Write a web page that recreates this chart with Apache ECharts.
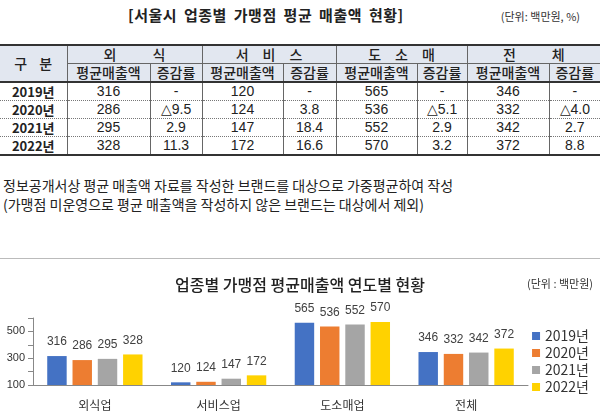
<!DOCTYPE html>
<html>
<head>
<meta charset="utf-8">
<script src="https://cdn.jsdelivr.net/npm/echarts@6/dist/echarts.min.js"></script>
<style>
  html, body { margin: 0; padding: 0; background: #fff; }
  body { width: 600px; height: 420px; position: relative; overflow: hidden; font-family: "Noto Sans CJK KR", sans-serif; color: #222; }
  #title { position: absolute; top: 4px; left: 128px; font-size: 15px; font-weight: bold; letter-spacing: 0.5px; word-spacing: 3px; }
  #unit { position: absolute; top: 8px; right: 20px; font-size: 11px; color: #333; }
  #tbl { position: absolute; top: 44px; left: 0; width: 600px; border-collapse: collapse; table-layout: fixed; }
  #tbl td { height: 17px; padding: 0; text-align: center; border-left: 1px solid #666; border-right: 1px solid #666; font-size: 13px; line-height: 17px; white-space: nowrap; overflow: hidden; }
  #tbl tr.h td { background: #e2e7f0; font-size: 14px; font-weight: 500; }
  #tbl tr.h1 td { border-top: 2px solid #333; }
  #tbl tr.h2 td { border-top: 1px solid #666; border-bottom: 2px solid #333; }
  #tbl tr.d td { border-bottom: 1px dotted #777; font-family: "Liberation Sans Narrow", "Liberation Sans", sans-serif; font-size: 14px; }
  #tbl tr.d td.y { font-family: "Noto Sans CJK KR", sans-serif; font-weight: bold; font-size: 13px; }
  #tbl tr.last td { border-bottom: 2px solid #333; }
  #tbl td:first-child { border-left: none; }
  #tbl td:last-child { border-right: none; }
  .sp { letter-spacing: 12px; }
  #notes { position: absolute; top: 176px; left: 3px; font-size: 14px; line-height: 19px; color: #222; }
  #sep { position: absolute; top: 258px; left: 0; width: 600px; border-top: 1px solid #bbb; }
  #chart { position: absolute; top: 259px; left: 0; width: 600px; height: 161px; }
</style>
</head>
<body>
<div id="title">[서울시 업종별 가맹점 평균 매출액 현황]</div>
<div id="unit">(단위: 백만원, %)</div>
<table id="tbl"></table>
<div id="notes">정보공개서상 평균 매출액 자료를 작성한 브랜드를 대상으로 가중평균하여 작성<br>(가맹점 미운영으로 평균 매출액을 작성하지 않은 브랜드는 대상에서 제외)</div>
<div id="sep"></div>
<div id="chart"></div>
<script>
// 표 데이터
const years = ['2019년', '2020년', '2021년', '2022년']
const groupNames = ['외 식', '서 비 스', '도 소 매', '전 체']
const salesFood = [316, 286, 295, 328]
const salesService = [120, 124, 147, 172]
const salesRetail = [565, 536, 552, 570]
const salesTotal = [346, 332, 342, 372]
const rateFood = ['-', '△9.5', '2.9', '11.3']
const rateService = ['-', '3.8', '18.4', '16.6']
const rateRetail = ['-', '△5.1', '2.9', '3.2']
const rateTotal = ['-', '△4.0', '2.7', '8.8']

// 차트 데이터
const categories = ['외식업', '서비스업', '도소매업', '전체']
const colWidths = [67, 83, 52, 81, 53, 81, 50, 82, 51]
const groupGaps = [36, 14, 14, 36]

// 표 그리기
function buildTable() {
  const tbl = document.getElementById('tbl')
  let html = '<colgroup>' + colWidths.map(w => '<col style="width:' + w + 'px">').join('') + '</colgroup>'
  html += '<tr class="h h1"><td rowspan="2" style="border-bottom:2px solid #333"><span class="sp">구</span>분</td>'
  groupNames.forEach((g, i) => {
    const parts = g.split(' ')
    const inner = parts.map((p, j) => j < parts.length - 1
      ? '<span style="margin-right:' + groupGaps[i] + 'px">' + p + '</span>' : p).join('')
    html += '<td colspan="2">' + inner + '</td>'
  })
  html += '</tr><tr class="h h2">'
  groupNames.forEach(() => {
    html += '<td>평균매출액</td><td>증감률</td>'
  })
  html += '</tr>'
  const sales = [salesFood, salesService, salesRetail, salesTotal]
  const rates = [rateFood, rateService, rateRetail, rateTotal]
  years.forEach((y, i) => {
    html += '<tr class="d' + (i === years.length - 1 ? ' last' : '') + '"><td class="y">' + y + '</td>'
    for (let k = 0; k < 4; k++) {
      html += '<td>' + sales[k][i] + '</td><td>' + rates[k][i] + '</td>'
    }
    html += '</tr>'
  })
  tbl.innerHTML = html
}
buildTable()

// 연도별 막대 차트
const chart = echarts.init(document.getElementById('chart'))
const yearColors = ['#4472c4', '#ed7d31', '#a5a5a5', '#ffd200']
const byYear = years.map((y, i) => [salesFood[i], salesService[i], salesRetail[i], salesTotal[i]])

const option = {
  animation: false,
  title: [{
    text: '업종별 가맹점 평균매출액 연도별 현황',
    left: 'center',
    top: 13,
    textStyle: { fontSize: 16, fontWeight: 500, color: '#222', fontFamily: 'Noto Sans CJK KR' }
  }, {
    text: '(단위 : 백만원)',
    right: 2,
    top: 14,
    textStyle: { fontSize: 11, fontWeight: 'normal', color: '#333', fontFamily: 'Noto Sans CJK KR' }
  }],
  legend: {
    orient: 'vertical',
    right: 6,
    top: 65,
    icon: 'rect',
    itemWidth: 8,
    itemHeight: 8,
    itemGap: 3,
    data: years,
    textStyle: { fontSize: 14, color: '#333', fontFamily: 'Noto Sans CJK KR' }
  },
  grid: { left: 33, right: 72, top: 59, bottom: 35 },
  xAxis: {
    type: 'category',
    data: categories,
    axisLine: { lineStyle: { color: '#888' } },
    axisTick: { lineStyle: { color: '#888' } },
    axisLabel: { margin: 14, fontSize: 12, color: '#333', fontFamily: 'Noto Sans CJK KR' }
  },
  yAxis: {
    type: 'value',
    min: 100,
    max: 600,
    interval: 100,
    axisLine: { show: true, lineStyle: { color: '#888' } },
    axisTick: { show: true, lineStyle: { color: '#888' } },
    splitLine: { show: false },
    axisLabel: {
      fontSize: 11,
      color: '#333',
      margin: 8,
      formatter: v => ((v - 100) % 200 === 0 ? v : '')
    }
  },
  series: years.map((y, i) => ({
    name: y,
    type: 'bar',
    data: byYear[i],
    barGap: '30%',
    barCategoryGap: '23%',
    itemStyle: { color: yearColors[i] },
    label: {
      show: true,
      position: 'top',
      distance: 8,
      fontSize: 12,
      color: '#404040',
      fontFamily: 'Liberation Sans'
    }
  }))
}
chart.setOption(option)
</script>
</body>
</html>
